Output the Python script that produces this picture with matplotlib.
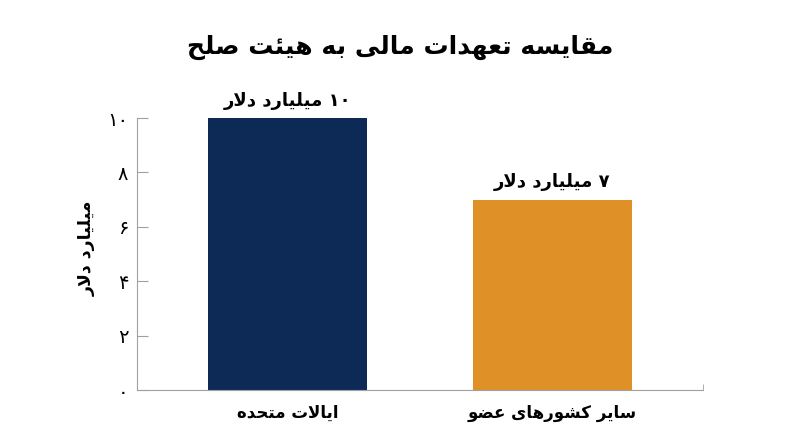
import re
import matplotlib
matplotlib.use('Agg')
import matplotlib.pyplot as plt
from matplotlib.ticker import FuncFormatter

# data
categories = ['ایالات متحده', 'سایر کشورهای عضو']
values = [10, 7]
bar_labels = ['۱۰ میلیارد دلار', '۷ میلیارد دلار']
bar_colors = ['#0d2a56', '#df9027']
title = 'مقایسه تعهدات مالی به هیئت صلح'
ylabel = 'میلیارد دلار'
yticks = [0, 2, 4, 6, 8, 10]

# presentation forms: isolated, final, initial, medial
FORMS = {
    'ا': ('\uFE8D', '\uFE8E', None, None),
    'ب': ('\uFE8F', '\uFE90', '\uFE91', '\uFE92'),
    'ت': ('\uFE95', '\uFE96', '\uFE97', '\uFE98'),
    'ح': ('\uFEA1', '\uFEA2', '\uFEA3', '\uFEA4'),
    'د': ('\uFEA9', '\uFEAA', None, None),
    'ر': ('\uFEAD', '\uFEAE', None, None),
    'س': ('\uFEB1', '\uFEB2', '\uFEB3', '\uFEB4'),
    'ش': ('\uFEB5', '\uFEB6', '\uFEB7', '\uFEB8'),
    'ص': ('\uFEB9', '\uFEBA', '\uFEBB', '\uFEBC'),
    'ض': ('\uFEBD', '\uFEBE', '\uFEBF', '\uFEC0'),
    'ع': ('\uFEC9', '\uFECA', '\uFECB', '\uFECC'),
    'ق': ('\uFED5', '\uFED6', '\uFED7', '\uFED8'),
    'ل': ('\uFEDD', '\uFEDE', '\uFEDF', '\uFEE0'),
    'م': ('\uFEE1', '\uFEE2', '\uFEE3', '\uFEE4'),
    'ه': ('\uFEE9', '\uFEEA', '\uFEEB', '\uFEEC'),
    'و': ('\uFEED', '\uFEEE', None, None),
    'ی': ('\uFBFC', '\uFBFD', '\uFBFE', '\uFBFF'),
    'ک': ('\uFB8E', '\uFB8F', '\uFB90', '\uFB91'),
    'ئ': ('\uFE89', '\uFE8A', '\uFE8B', '\uFE8C'),
}


def dual(c):
    return c in FORMS and FORMS[c][2] is not None


def fa(text):
    # crude shaping + right-to-left ordering, digits kept left-to-right
    out = []
    i = 0
    while i < len(text):
        c = text[i]
        if c not in FORMS:
            out.append(c)
            i += 1
            continue
        jp = i > 0 and dual(text[i - 1])
        if c == 'ل' and i + 1 < len(text) and text[i + 1] == 'ا':
            out.append('\uFEFC' if jp else '\uFEFB')
            i += 2
            continue
        nxt = text[i + 1] if i + 1 < len(text) else ''
        jn = dual(c) and nxt in FORMS
        iso, fin, ini, med = FORMS[c]
        if jp and jn:
            out.append(med)
        elif jp:
            out.append(fin)
        elif jn:
            out.append(ini)
        else:
            out.append(iso)
        i += 1
    s = ''.join(out)[::-1]
    return re.sub('[۰-۹0-9]+', lambda m: m.group(0)[::-1], s)


def fa_num(n):
    return str(n).translate(str.maketrans('0123456789', '۰۱۲۳۴۵۶۷۸۹'))


plt.rcParams['font.family'] = ['DejaVu Sans']

fig = plt.figure(figsize=(8, 4.47), dpi=100)
ax = fig.add_axes([0.171, 0.1275, 0.708, 0.6085])

x = range(len(categories))
ax.bar(x, values, width=0.6, color=bar_colors)
for xi, v, lab in zip(x, values, bar_labels):
    ax.annotate(fa(lab), (xi, v), xytext=(0, 6), textcoords='offset points',
                ha='center', va='bottom', fontsize=13, fontweight='bold')

ax.set_xlim(-0.57, 1.57)
ax.set_ylim(0, 10)
ax.set_yticks(yticks)
ax.yaxis.set_major_formatter(FuncFormatter(lambda v, p: fa_num(int(v))))
ax.set_xticks(list(x))
ax.set_xticklabels([fa(c) for c in categories], fontsize=12, fontweight='bold')
ax.set_xticks([1.57], minor=True)
ax.tick_params(axis='x', which='major', length=0, pad=10)
ax.tick_params(axis='x', which='minor', direction='in', length=4, color='#a0a0a0')
ax.tick_params(axis='y', direction='in', length=8, color='#a0a0a0', labelsize=14, pad=6)
ax.set_ylabel(fa(ylabel), fontsize=12.5, fontweight='bold')
ax.yaxis.set_label_coords(-0.072, 0.52)

for s in ['top', 'right']:
    ax.spines[s].set_visible(False)
for s in ['left', 'bottom']:
    ax.spines[s].set_color('#a0a0a0')

fig.text(0.5, 0.893, fa(title), ha='center', va='center', fontsize=18, fontweight='bold')

fig.savefig('out.png', dpi=100)
